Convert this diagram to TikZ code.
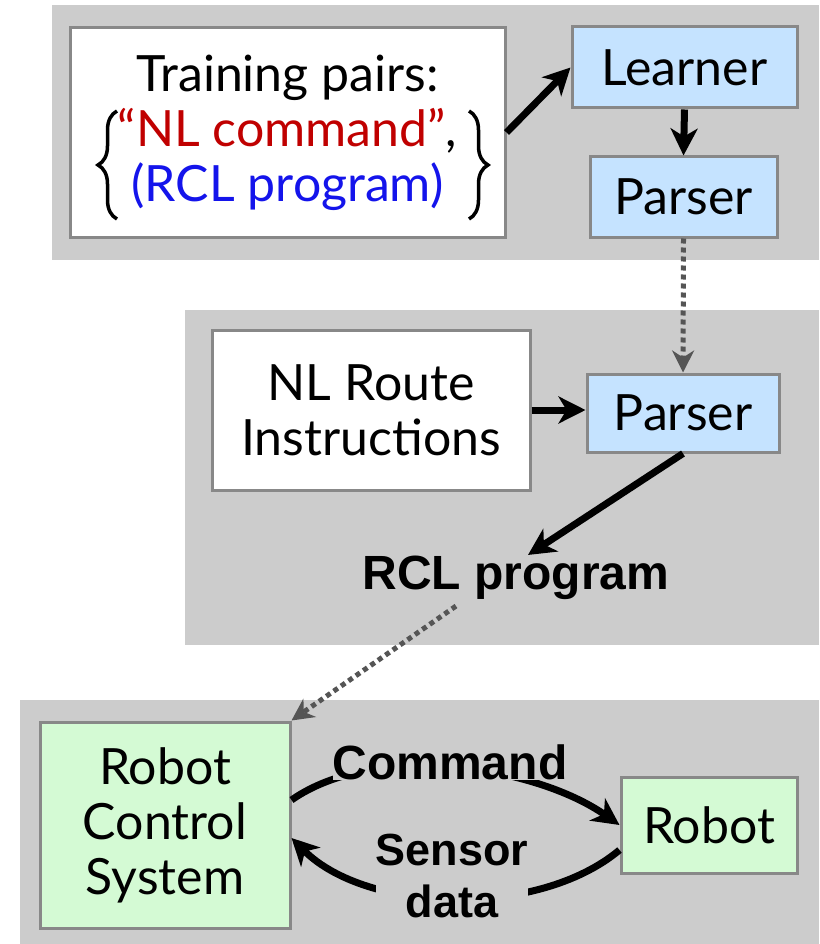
\documentclass[tikz,border=0pt]{standalone}
\usepackage{fontspec}
\setmainfont{Lato}
\newfontfamily\labelfont{Liberation Sans}
\usetikzlibrary{arrows.meta,decorations.pathreplacing}

\definecolor{panelgray}{RGB}{204,204,204}
\definecolor{boxline}{RGB}{136,136,136}
\definecolor{learnblue}{RGB}{197,227,255}
\definecolor{sysgreen}{RGB}{212,250,212}
\definecolor{nlred}{RGB}{192,0,0}
\definecolor{rclblue}{RGB}{20,20,235}
\definecolor{dotgray}{RGB}{85,85,85}

\newcommand\mainsize{\fontsize{50}{55}\selectfont}
\newcommand\lblsize{\labelfont\bfseries\fontsize{48}{40}\selectfont}
\newcommand\smalllblsize{\labelfont\bfseries\fontsize{45}{51.5}\selectfont}

\begin{document}
\begin{tikzpicture}[x=1pt,y=1pt,
  panel/.style={fill=panelgray},
  box/.style={draw=boxline, line width=3pt, inner sep=0pt, align=center, font=\mainsize},
  bluebox/.style={box, fill=learnblue},
  greenbox/.style={box, fill=sysgreen},
  whitebox/.style={box, fill=white},
  arr/.style={line width=7pt, -{Stealth[length=27pt,width=27pt,inset=8pt]}},
  dotarr/.style={line width=5pt, dotgray, dash pattern=on 5pt off 4pt,
    -{Stealth[length=22pt,width=22pt,inset=7pt]}},
  lbl/.style={inner sep=0pt, align=center, font=\lblsize, fill=panelgray},
  bracestyle/.style={line width=3.5pt, decorate, decoration={brace, amplitude=19pt, aspect=0.5}}
]
\useasboundingbox (0,0) rectangle (819,-944);

% background panels
\fill[panel] (52,-5) rectangle (819,-260);
\fill[panel] (185,-310) rectangle (819,-645);
\fill[panel] (20,-700) rectangle (819,-944);

% training stage
\node[whitebox, minimum width=435pt, minimum height=209pt] (train) at (287.5,-132.5)
  {Training pairs:\\ \textcolor{nlred}{“NL command”},\\ \textcolor{rclblue}{(RCL program)}};
\draw[bracestyle] (117,-219) -- (117,-111);
\draw[bracestyle] (469,-111) -- (469,-219);
\node[bluebox, minimum width=225pt, minimum height=81pt] (learner) at (684.5,-67.5) {Learner};
\node[bluebox, minimum width=187pt, minimum height=80pt] (parser1) at (683.5,-197) {Parser};

% parsing stage
\node[whitebox, minimum width=318pt, minimum height=160pt] (nlroute) at (371,-410) {NL Route\\Instructions};
\node[bluebox, minimum width=192pt, minimum height=78pt] (parser2) at (683,-413) {Parser};
\node[lbl] (rcl) at (516,-578) {RCL program};

% execution stage
\node[greenbox, minimum width=250pt, minimum height=206pt] (rcs) at (165,-825) {Robot\\Control\\System};
\node[greenbox, minimum width=176pt, minimum height=96pt] (robot) at (709,-825) {Robot};

% connectors
\draw[arr] (train.east) -- (learner.west);
\draw[arr] (learner.south) -- (parser1.north);
\draw[dotarr] (parser1.south) -- (parser2.north);
\draw[arr] (nlroute.east) -- (nlroute.east -| parser2.west);
\draw[arr] (parser2.south) -- ([xshift=12pt,yshift=1pt]rcl.north);
\draw[dotarr] ([xshift=-60pt,yshift=-6pt]rcl.south) -- (rcs.north east);
\draw[arr] ([yshift=25pt]rcs.east) to[out=35,in=145,looseness=0.8] (robot.west);
\draw[arr] ([yshift=-25pt]robot.west) to[out=-140,in=-45,looseness=0.83] ([yshift=-13pt]rcs.east);

% arc labels on top of the arcs
\node[lbl] (cmd) at (450,-762) {Command};
\node[lbl, font=\smalllblsize] (sensor) at (452,-876) {Sensor\\data};
\end{tikzpicture}
\end{document}
